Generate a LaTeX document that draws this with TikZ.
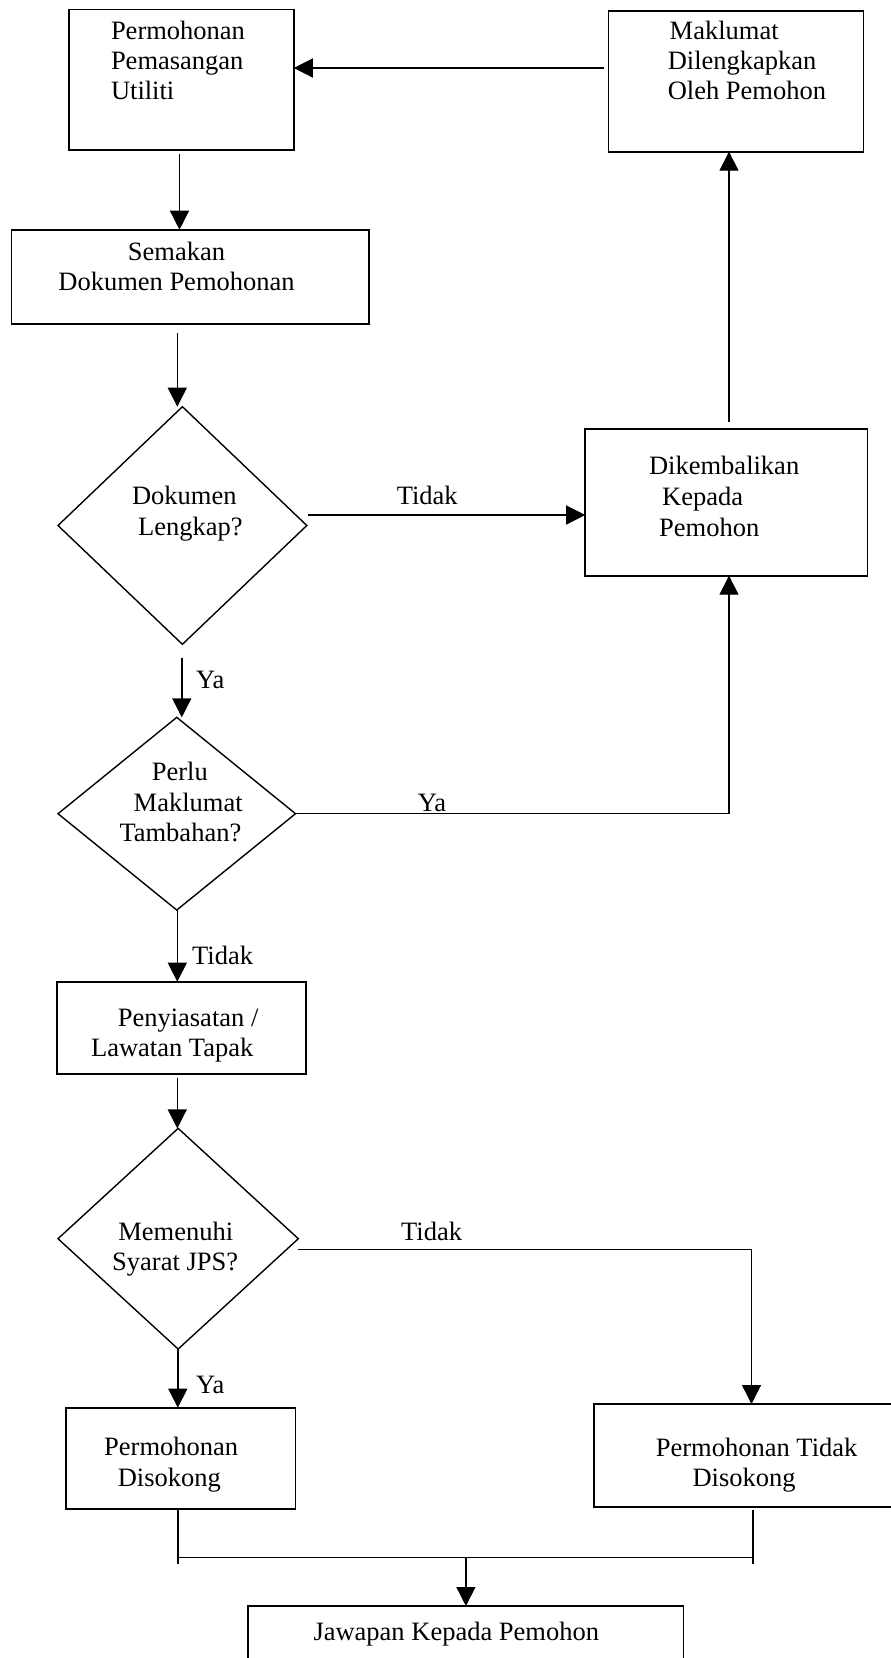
\documentclass[tikz,border=0pt]{standalone}
\usepackage{fontspec}
\setmainfont{Liberation Serif}
\usetikzlibrary{arrows.meta,shapes.geometric}
\begin{document}
\begin{tikzpicture}[x=1pt,y=-1pt,
  box/.style={draw, line width=1.7pt, rectangle, inner sep=0pt, outer sep=0pt},
  dec/.style={draw, line width=1.4pt, diamond, inner sep=0pt, outer sep=0pt},
  conn/.style={line width=1.4pt},
  arr/.style={conn, -{Triangle[length=19pt,width=19pt]}},
  txt/.style={anchor=base west, inner sep=0pt, font=\fontsize{26.5}{30}\selectfont},
  ctxt/.style={txt, anchor=base},
]
\useasboundingbox (0,0) rectangle (891,1658);
\clip (0,0) rectangle (891,1658);

% process boxes
\node[box, minimum width=224.5, minimum height=140.2] (req)   at (181.55,79.6) {};
\node[box, minimum width=255.1, minimum height=141]   (info)  at (736.05,81.2) {};
\node[box, minimum width=357.4, minimum height=94]    (check) at (190.1,276.7) {};
\node[box, minimum width=282.4, minimum height=146.4] (back)  at (726.4,502.5) {};
\node[box, minimum width=248.9, minimum height=92.3]  (visit) at (181.25,1027.85) {};
\node[box, minimum width=229.6, minimum height=101.3] (yes)   at (180.7,1458.35) {};
\node[box, minimum width=302,   minimum height=103]   (no)    at (745,1455.5) {};
\node[box, minimum width=435.2, minimum height=94]    (reply) at (465.9,1653) {};

% decisions
\node[dec, minimum width=248.8, minimum height=237.6] (complete) at (182.4,525.5) {};
\node[dec, minimum width=237.5, minimum height=192.7] (extra)    at (176.75,813.7) {};
\node[dec, minimum width=240.3, minimum height=220.7] (jps)      at (178.15,1238.7) {};

% texts
\node[txt] (req1) at (110.8,39.4) {Permohonan};
\node[txt] (req2) at (110.8,69.5) {Pemasangan};
\node[txt] (req3) at (110.8,99.4) {Utiliti};

\node[txt] (info1) at (669.5,39.4) {Maklumat};
\node[txt] (info2) at (667.6,69.5) {Dilengkapkan};
\node[txt] (info3) at (667.6,99.6) {Oleh Pemohon};

\node[ctxt] (check1) at (176.5,260) {Semakan};
\node[ctxt] (check2) at (176.5,290) {Dokumen Pemohonan};

\node[txt] (comp1) at (131.8,504.3) {Dokumen};
\node[txt] (comp2) at (138,535.5) {Lengkap?};
\node[txt] (lblno1) at (396.6,504.3) {Tidak};

\node[txt] (back1) at (648.9,474) {Dikembalikan};
\node[txt] (back2) at (662,505) {Kepada};
\node[txt] (back3) at (659,536) {Pemohon};

\node[txt] (lblyes1) at (196,688.3) {Ya};

\node[txt] (extra1) at (151.7,780.7) {Perlu};
\node[txt] (extra2) at (133.5,811.7) {Maklumat};
\node[txt] (extra3) at (119.3,841.7) {Tambahan?};
\node[txt] (lblyes2) at (417.6,811.7) {Ya};

\node[txt] (lblno2) at (192,964.3) {Tidak};

\node[txt] (visit1) at (117.6,1026.7) {Penyiasatan /};
\node[txt] (visit2) at (90.9,1056) {Lawatan Tapak};

\node[txt] (jps1) at (118.2,1240) {Memenuhi};
\node[txt] (jps2) at (112,1270.7) {Syarat JPS?};
\node[txt] (lblno3) at (401,1240) {Tidak};

\node[txt] (lblyes3) at (196,1393.3) {Ya};

\node[txt] (yes1) at (104,1455.7) {Permohonan};
\node[txt] (yes2) at (117.6,1486.7) {Disokong};

\node[txt] (no1) at (655.7,1456) {Permohonan Tidak};
\node[txt] (no2) at (692.3,1486.7) {Disokong};

\node[txt] (reply1) at (313.3,1640) {Jawapan Kepada Pemohon};

% connectors
\draw[arr, shorten <=4.5pt] (info.west |- 0,68) -- (req.east |- 0,68);
\draw[arr, shorten <=4.3pt] (req.south -| 179.5,0) -- (check.north -| 179.5,0);
\draw[arr, shorten <=9.3pt] (check.south -| 177.3,0) -- (complete.north -| 177.3,0);
\draw[arr, shorten <=1.2pt] (complete.east |- 0,515) -- (back.west |- 0,515);
\draw[arr, shorten <=13.4pt] (complete.south -| 181.8,0) -- (extra.north -| 181.8,0);
\draw[arr] (extra.east) -| (back.south -| 729,0);
\draw[arr, shorten <=7.6pt] (back.north -| 729,0) -- (info.south -| 729,0);
\draw[arr] (extra.south -| 177.3,0) -- (visit.north -| 177.3,0);
\draw[arr, shorten <=3.7pt] (visit.south -| 177.3,0) -- (jps.north -| 177.3,0);
\draw[arr] (jps.east |- 0,1249.3) -| (no.north -| 751.5,0);
\draw[arr] (jps.south -| 177.8,0) -- (yes.north -| 177.8,0);

% merge of both outcomes
\coordinate (jl) at (177.8,1557.5);
\coordinate (jr) at (752.8,1557.5);
\draw[conn, shorten <=1pt] (yes.south -| jl) -- ([yshift=-6.5pt]jl);
\draw[conn, shorten <=2.5pt] (no.south -| jr) -- ([yshift=-6.5pt]jr);
\draw[conn] (jl) -- (jr);
\draw[arr] (reply.north |- jl) -- (reply.north);
\end{tikzpicture}
\end{document}
